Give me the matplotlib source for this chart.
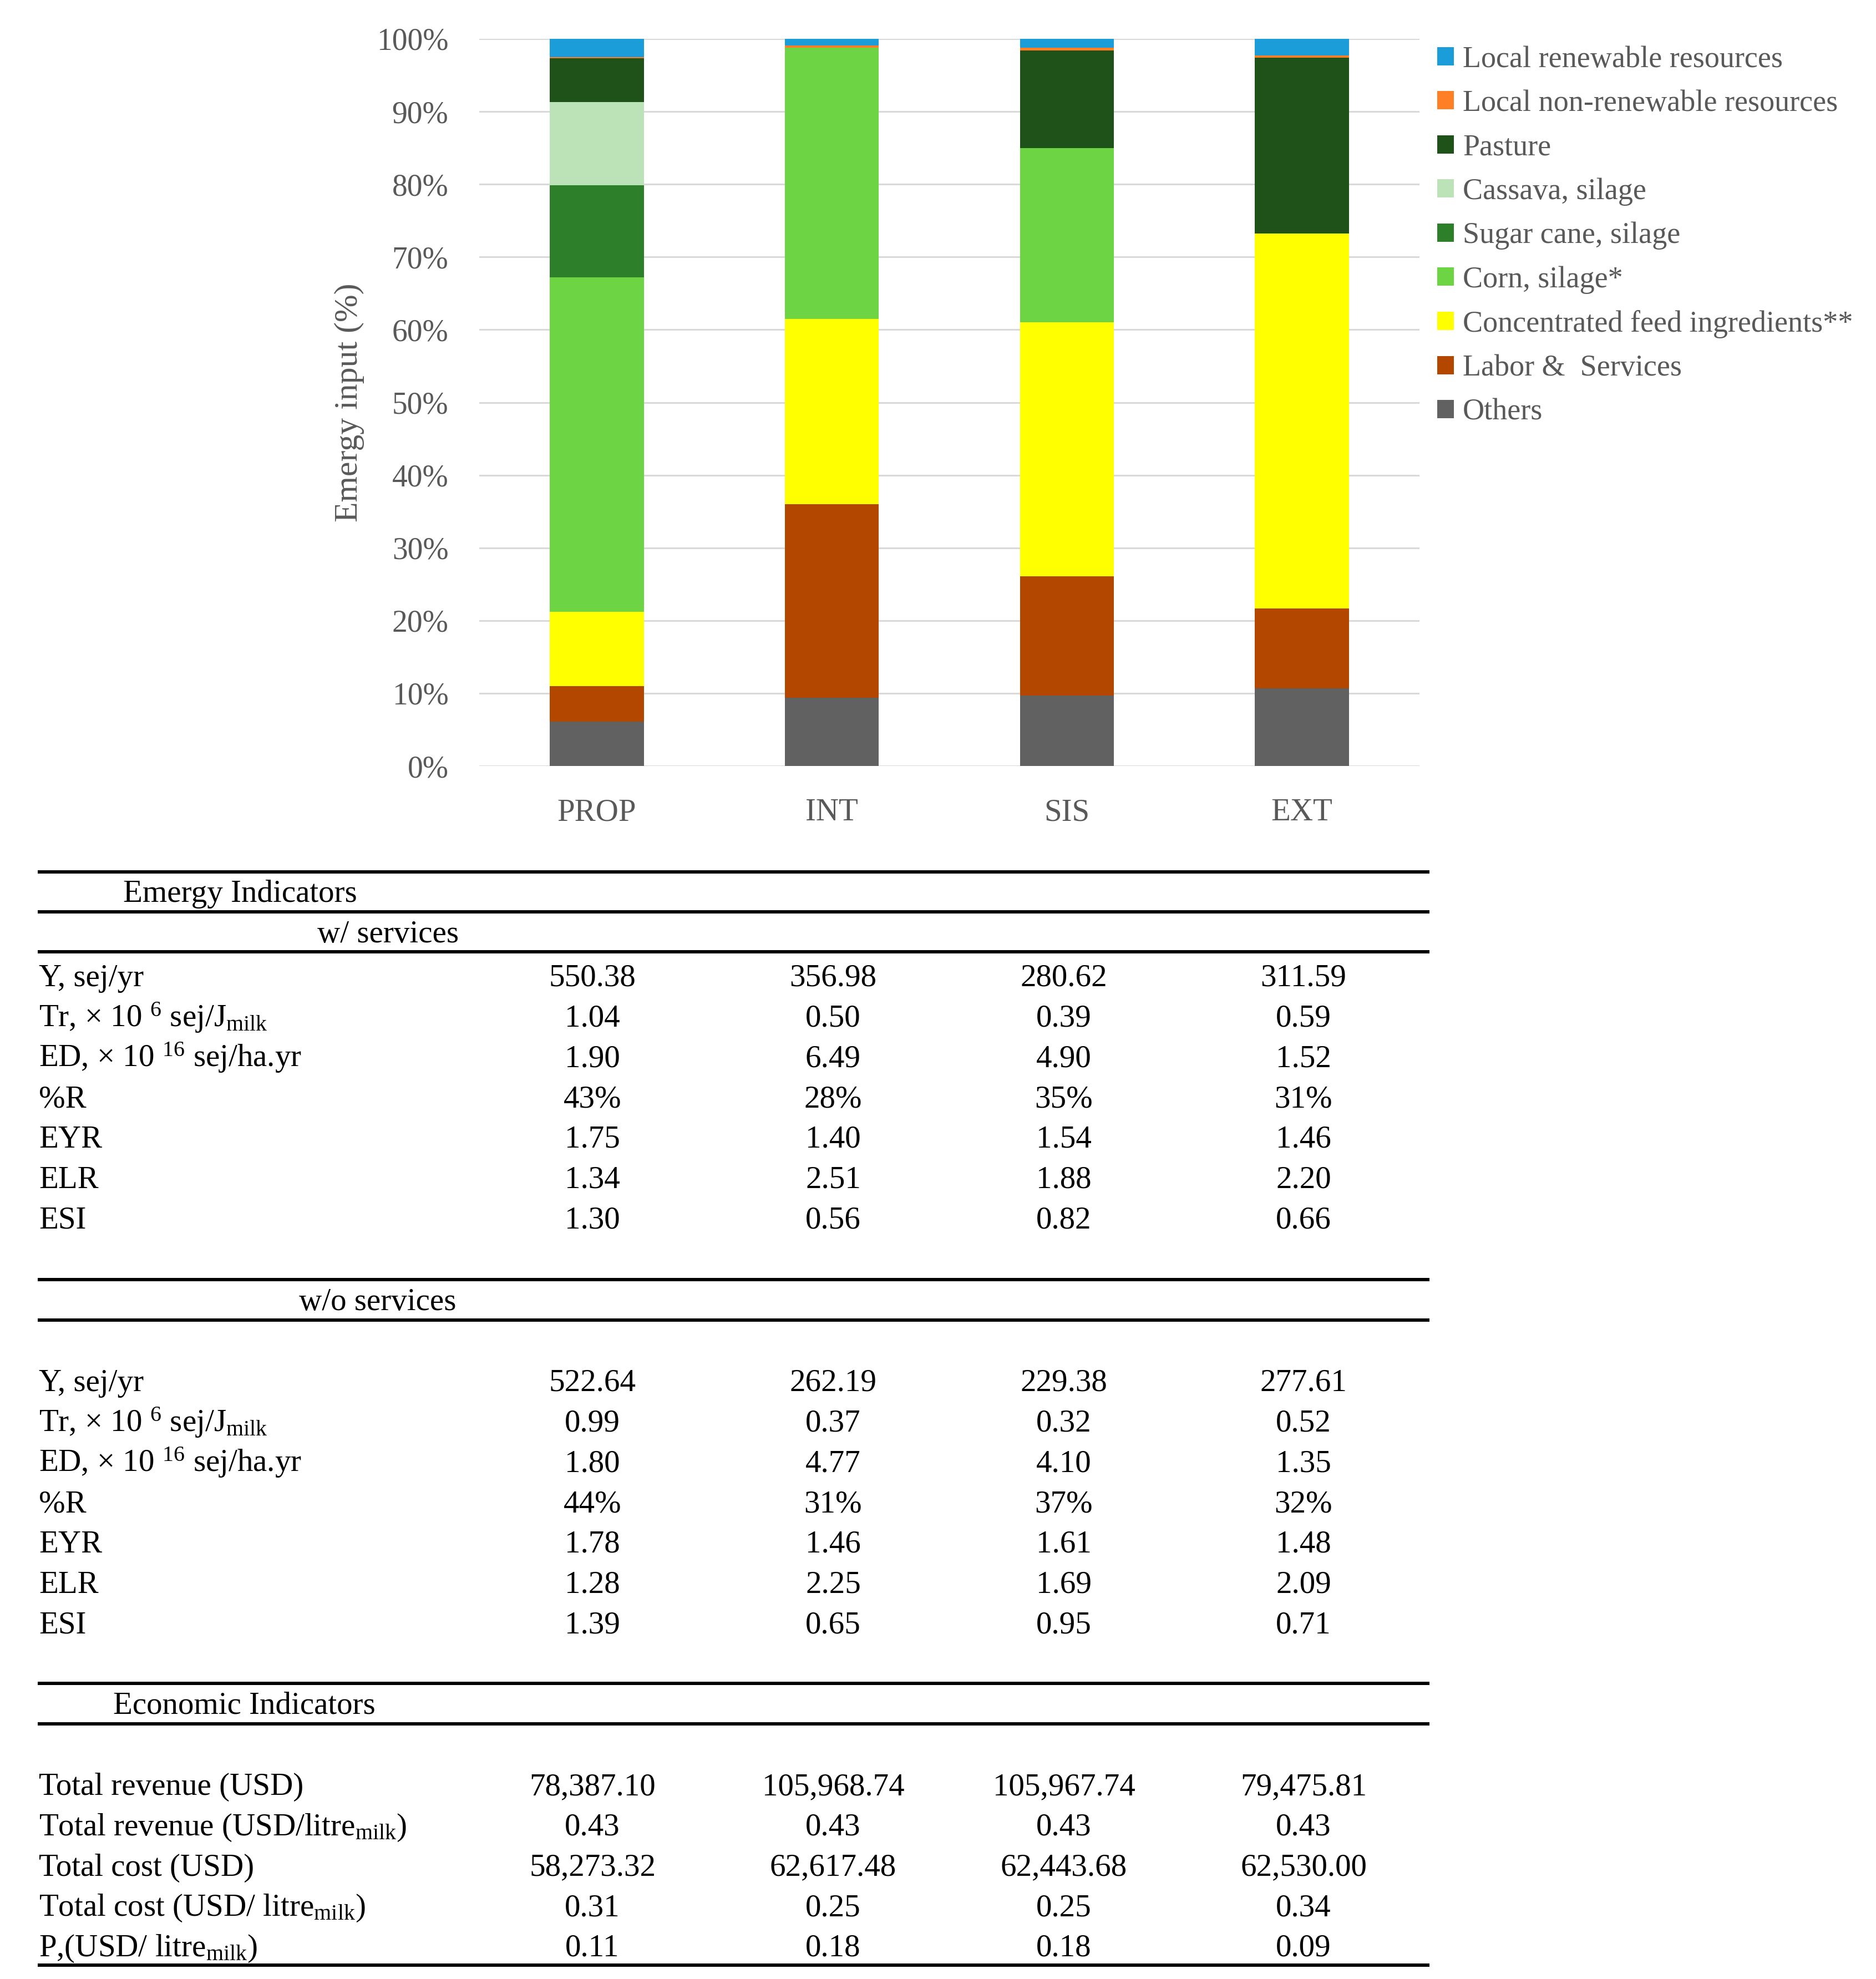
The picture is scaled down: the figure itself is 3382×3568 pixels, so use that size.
import matplotlib
matplotlib.use("Agg")
import matplotlib.pyplot as plt
from matplotlib.patches import Patch
import numpy as np

# ---- chart data (% of total emergy input) ----
categories = ['PROP', 'INT', 'SIS', 'EXT']

others = [6.1, 9.4, 9.7, 10.7]
labor_services = [4.9, 26.6, 16.4, 11.0]
concentrated = [10.2, 25.5, 34.9, 51.5]
corn_silage = [46.0, 37.3, 24.0, 0.0]
sugar_cane_silage = [12.7, 0.0, 0.0, 0.0]
cassava_silage = [11.4, 0.0, 0.0, 0.0]
pasture = [6.0, 0.0, 13.4, 24.2]
local_nonrenewable = [0.2, 0.3, 0.4, 0.3]
local_renewable = [2.5, 0.9, 1.2, 2.3]

# stacked bottom -> top
series = [
    ('Others', others, '#616161'),
    ('Labor &  Services', labor_services, '#b34700'),
    ('Concentrated feed ingredients**', concentrated, '#ffff00'),
    ('Corn, silage*', corn_silage, '#6dd444'),
    ('Sugar cane, silage', sugar_cane_silage, '#2e7f2a'),
    ('Cassava, silage', cassava_silage, '#bce2b8'),
    ('Pasture', pasture, '#1f5218'),
    ('Local non-renewable resources', local_nonrenewable, '#ff7f27'),
    ('Local renewable resources', local_renewable, '#1a9dd9'),
]

# ---- table data ----
emergy_rows = ['Y, sej/yr',
               'Tr, × 10 $^{6}$ sej/J$_{\\mathrm{milk}}$',
               'ED, × 10 $^{16}$ sej/ha.yr',
               '%R', 'EYR', 'ELR', 'ESI']
with_services = [
    ['550.38', '356.98', '280.62', '311.59'],
    ['1.04', '0.50', '0.39', '0.59'],
    ['1.90', '6.49', '4.90', '1.52'],
    ['43%', '28%', '35%', '31%'],
    ['1.75', '1.40', '1.54', '1.46'],
    ['1.34', '2.51', '1.88', '2.20'],
    ['1.30', '0.56', '0.82', '0.66'],
]
without_services = [
    ['522.64', '262.19', '229.38', '277.61'],
    ['0.99', '0.37', '0.32', '0.52'],
    ['1.80', '4.77', '4.10', '1.35'],
    ['44%', '31%', '37%', '32%'],
    ['1.78', '1.46', '1.61', '1.48'],
    ['1.28', '2.25', '1.69', '2.09'],
    ['1.39', '0.65', '0.95', '0.71'],
]
economic_rows = ['Total revenue (USD)',
                 'Total revenue (USD/litre$_{\\mathrm{milk}}$)',
                 'Total cost (USD)',
                 'Total cost (USD/ litre$_{\\mathrm{milk}}$)',
                 'P,(USD/ litre$_{\\mathrm{milk}}$)']
economic_values = [
    ['78,387.10', '105,968.74', '105,967.74', '79,475.81'],
    ['0.43', '0.43', '0.43', '0.43'],
    ['58,273.32', '62,617.48', '62,443.68', '62,530.00'],
    ['0.31', '0.25', '0.25', '0.34'],
    ['0.11', '0.18', '0.18', '0.09'],
]

plt.rcParams['font.family'] = ['Liberation Serif', 'DejaVu Serif']
plt.rcParams['mathtext.fontset'] = 'custom'
plt.rcParams['mathtext.rm'] = 'Liberation Serif'
plt.rcParams['mathtext.it'] = 'Liberation Serif:italic'
plt.rcParams['mathtext.bf'] = 'Liberation Serif:bold'

W, H = 3382, 3568
fig = plt.figure(figsize=(W / 100, H / 100), dpi=100)
grey = '#595959'

# ---- stacked bar chart ----
ax = fig.add_axes([864 / W, 1 - 1381 / H, (2559 - 864) / W, (1381 - 70) / H])
x = np.arange(len(categories))
bottom = np.zeros(len(categories))
handles = []
for name, vals, color in series:
    vals = np.array(vals)
    ax.bar(x, vals, 0.4, bottom=bottom, color=color, linewidth=0, zorder=3)
    bottom += vals
    handles.append(Patch(facecolor=color, label=name))

ax.set_xlim(-0.5, 3.5)
ax.set_ylim(0, 100)
ax.set_yticks(np.arange(0, 101, 10))
ax.set_yticklabels([f'{v}%' for v in range(0, 101, 10)])
ax.set_xticks(x)
ax.set_xticklabels(categories)
ax.tick_params(axis='y', length=0, pad=40, labelsize=40, labelcolor=grey)
ax.tick_params(axis='x', length=0, pad=42, labelsize=41, labelcolor=grey)
ax.grid(axis='y', color='#d9d9d9', linewidth=2.2, zorder=0)
for s in ax.spines.values():
    s.set_visible(False)
ax.set_ylabel('Emergy input (%)', fontsize=43, color=grey)
ax.yaxis.label.set_va('center')
ax.yaxis.set_label_coords(-0.138, 0.5)

leg = fig.legend(handles=handles[::-1], loc='upper left',
                 bbox_to_anchor=(2591 / W, 1 - 82 / H), frameon=False,
                 fontsize=39, labelspacing=0.535, handlelength=0.55,
                 handleheight=0.55, handletextpad=0.3, borderpad=0,
                 borderaxespad=0)
for t in leg.get_texts():
    t.set_color(grey)

# ---- indicator table (pixel coordinates) ----
tax = fig.add_axes([0, 0, 1, 1])
tax.set_xlim(0, W)
tax.set_ylim(H, 0)
tax.axis('off')

col_x = [1068, 1502, 1918, 2350]
left_x = 70
row_step = 72.7
fs = 41

for y in [1572, 1644, 1716, 2307, 2380, 3035, 3108, 3543]:
    tax.plot([68, 2577], [y, y], color='black', linewidth=4.3,
             solid_capstyle='butt')

tax.text(222, 1626, 'Emergy Indicators', fontsize=fs, va='baseline')
tax.text(572, 1699, 'w/ services', fontsize=fs, va='baseline')
tax.text(539, 2362, 'w/o services', fontsize=fs, va='baseline')
tax.text(204, 3089, 'Economic Indicators', fontsize=fs, va='baseline')


def draw_block(labels, values, y0):
    for i, (lab, row) in enumerate(zip(labels, values)):
        y = y0 + i * row_step
        tax.text(left_x, y, lab, fontsize=fs, va='baseline')
        for cx, v in zip(col_x, row):
            tax.text(cx, y, v, fontsize=fs, va='baseline', ha='center')


draw_block(emergy_rows, with_services, 1778)
draw_block(emergy_rows, without_services, 2508)
draw_block(economic_rows, economic_values, 3236)

fig.savefig('out.png', dpi=100)
